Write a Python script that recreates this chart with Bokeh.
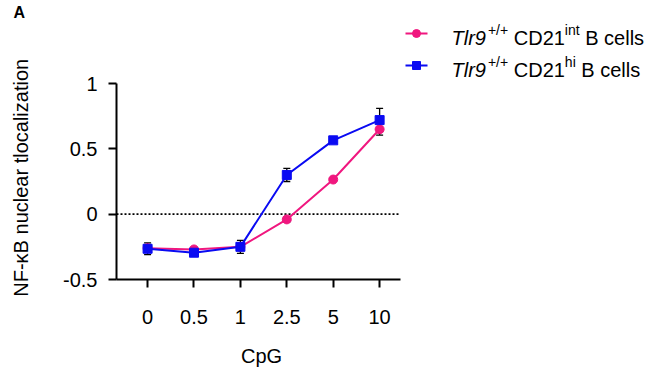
from bokeh.plotting import figure
from bokeh.models import (Range1d, FixedTicker, Whisker, TeeHead, ColumnDataSource)
from bokeh.embed import file_html
from bokeh.resources import INLINE
from bokeh.core.properties import value

# ---------------- data ----------------
cpg_labels = ["0", "0.5", "1", "2.5", "5", "10"]
int_mean = [-0.26, -0.27, -0.25, -0.04, 0.265, 0.65]
int_err = [0.02, 0.015, 0.02, 0.02, 0.012, 0.045]
hi_mean = [-0.265, -0.295, -0.25, 0.30, 0.565, 0.72]
hi_err = [0.045, 0.02, 0.05, 0.05, 0.015, 0.09]
y_ticks = [-0.5, 0, 0.5, 1]
y_tick_labels = ["-0.5", "0", "0.5", "1"]
series_names = [("Tlr9", "+/+", "CD21", "int", "B cells"),
                ("Tlr9", "+/+", "CD21", "hi", "B cells")]
x_title = "CpG"
y_title = "NF-\u03baB nuclear tlocalization"
panel_letter = "A"

PINK = "#F0177F"
BLUE = "#0A0AF2"
FONT = "Liberation Sans"
NBSP = "\u00a0"

# ---------------- layout (page px) ----------------
TOTAL_W, TOTAL_H = 645, 375
TOP = 20                      # frame top (legend lives inside the frame)
AX_L, AX_R, AX_T, AX_B = 116, 400, 83, 279   # axis box
X_AX = (-0.67, 5.45)           # x-axis data extent
Y_AX = (-0.5, 1.0)             # y-axis data extent
sx = (X_AX[1] - X_AX[0]) / (AX_R - AX_L)
sy = (Y_AX[1] - Y_AX[0]) / (AX_B - AX_T)
XR = (X_AX[0], X_AX[0] + (TOTAL_W - AX_L) * sx)
YR = (Y_AX[0], Y_AX[0] + (AX_B - TOP) * sy)


def dx(px):
    return XR[0] + (px - AX_L) * sx


def dy(py):
    return YR[0] + (AX_B - py) * sy


xs = list(range(len(cpg_labels)))

p = figure(output_backend="svg", toolbar_location=None,
           frame_width=TOTAL_W - AX_L, frame_height=AX_B - TOP,
           min_border_left=AX_L, min_border_top=TOP,
           min_border_right=0, min_border_bottom=TOTAL_H - AX_B,
           x_range=Range1d(*XR), y_range=Range1d(*YR))
p.outline_line_color = None
p.grid.visible = False
p.background_fill_color = "white"
p.border_fill_color = "white"

# panel letter as title
p.title.text = panel_letter
p.title.align = "left"
p.title.offset = 13 - AX_L
p.title.standoff = 0
p.title.text_font = FONT
p.title.text_font_size = "16px"
p.title.text_font_style = "bold"
p.title.text_color = "black"

for ax in (p.xaxis[0], p.yaxis[0]):
    ax.axis_line_width = 2
    ax.axis_line_color = "black"
    ax.major_tick_line_width = 2
    ax.major_tick_line_color = "black"
    ax.major_tick_out = 8
    ax.major_tick_in = 0
    ax.minor_tick_line_color = None
    ax.major_label_text_font = FONT
    ax.major_label_text_font_size = "20px"
    ax.major_label_text_color = "black"
    ax.axis_label_text_font = FONT
    ax.axis_label_text_font_size = "20px"
    ax.axis_label_text_font_style = "normal"
    ax.axis_label_text_color = "black"

# axis labels are centred on the (wide) frame; non-breaking spaces shift them
# so that they sit centred on the axis box, as in the reference
p.xaxis.bounds = X_AX
p.xaxis.ticker = FixedTicker(ticks=xs)
p.xaxis.major_label_overrides = {i: lab for i, lab in zip(xs, cpg_labels)}
p.xaxis.major_label_standoff = 22
p.xaxis.axis_label = x_title + NBSP * 43
p.xaxis.axis_label_standoff = 18

p.yaxis.bounds = Y_AX
p.yaxis.ticker = FixedTicker(ticks=y_ticks)
p.yaxis.major_label_overrides = {t: lab for t, lab in zip(y_ticks, y_tick_labels)}
p.yaxis.major_label_standoff = 11
p.yaxis.axis_label = y_title + NBSP * 10
p.yaxis.axis_label_standoff = 28

# dotted zero line across the axis box
p.segment(x0=[X_AX[0]], y0=[0], x1=[X_AX[1]], y1=[0], line_color="black",
          line_width=1.6, line_dash="2 2", level="underlay")

src_int = ColumnDataSource(dict(x=xs, y=int_mean,
                                lo=[m - e for m, e in zip(int_mean, int_err)],
                                hi=[m + e for m, e in zip(int_mean, int_err)]))
src_hi = ColumnDataSource(dict(x=xs, y=hi_mean,
                               lo=[m - e for m, e in zip(hi_mean, hi_err)],
                               hi=[m + e for m, e in zip(hi_mean, hi_err)]))

p.line("x", "y", source=src_int, line_color=PINK, line_width=2)
p.scatter("x", "y", source=src_int, marker="circle", size=9,
          fill_color=PINK, line_color=PINK)
p.line("x", "y", source=src_hi, line_color=BLUE, line_width=2)
p.scatter("x", "y", source=src_hi, marker="square", size=9,
          fill_color=BLUE, line_color=BLUE)

for src in (src_int, src_hi):
    p.add_layout(Whisker(source=src, base="x", lower="lo", upper="hi",
                         line_color="black", line_width=1.3,
                         upper_head=TeeHead(size=7, line_color="black", line_width=1.3),
                         lower_head=TeeHead(size=7, line_color="black", line_width=1.3)))

# ---------------- series legend (drawn inside the frame) ----------------
W = {"T": 611, "l": 222, "r": 333, "9": 556, "+": 584, "/": 278, "C": 722,
     "D": 722, "2": 556, "1": 556, "i": 222, "n": 556, "t": 278, "h": 556,
     "B": 667, "c": 500, "e": 556, "s": 500, " ": 278}


def tw(s, size):
    return sum(W[c] for c in s) * size / 1000.0


row_y = [33, 65]
colors = [PINK, BLUE]
markers = ["circle", "square"]
MAIN, SUP = 20, 14


def txt(px, py, s, size, style="normal"):
    p.text(x=[dx(px)], y=[dy(py)], text=[s], text_font=value(FONT),
           text_font_size=f"{size}px", text_font_style=style, text_color="black",
           text_baseline="alphabetic", text_align="left")


for (gene, gsup, cd, csup, tail), cy, col, mk in zip(series_names, row_y, colors, markers):
    p.segment(x0=[dx(405)], y0=[dy(cy)], x1=[dx(427)], y1=[dy(cy)],
              line_color=col, line_width=2)
    p.scatter(x=[dx(416)], y=[dy(cy)], marker=mk, size=8, fill_color=col, line_color=col)
    base = cy + 4
    x0 = 451
    txt(x0, base, gene, MAIN, "italic")
    x0 += tw(gene, MAIN) + 2
    txt(x0, base - 7.5, gsup, SUP)
    x0 += tw(gsup, SUP) + tw(" ", MAIN)
    txt(x0, base, cd, MAIN)
    x0 += tw(cd, MAIN)
    txt(x0, base - 7.5, csup, SUP)
    x0 += tw(csup, SUP) + tw(" ", MAIN)
    txt(x0, base, tail, MAIN)

open("out.html", "w").write(file_html(p, INLINE))
